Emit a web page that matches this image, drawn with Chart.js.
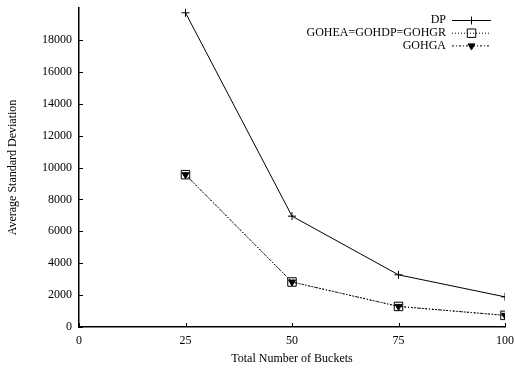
<!DOCTYPE html>
<html>
<head>
<meta charset="utf-8">
<script src="https://cdn.jsdelivr.net/npm/chart.js@4/dist/chart.umd.min.js"></script>
<style>
    html, body { margin: 0; padding: 0; background: #fff; }
    #wrap { width: 515px; height: 371px; }
</style>
</head>
<body>
<div id="wrap"><canvas id="chart" width="515" height="371"></canvas></div>
<script>
// values
const buckets = [25, 50, 75, 100];
const dpValues = [19700, 6950, 3270, 1890];
const goheaValues = [9550, 2820, 1290, 730];
const gohgaValues = [9550, 2820, 1290, 730];
const xTicks = [0, 25, 50, 75, 100];
const yTicks = [0, 2000, 4000, 6000, 8000, 10000, 12000, 14000, 16000, 18000];

const serif = "'Liberation Serif', 'DejaVu Serif', serif";

function toPoints(values) {
    return buckets.map((b, i) => ({ x: b, y: values[i] }));
}

// gnuplot style ticks pointing into the plot + legend in the top right corner
const gnuplotBits = {
    id: 'gnuplotBits',
    afterDraw(chart) {
        const ctx = chart.ctx;
        const xs = chart.scales.x;
        const ys = chart.scales.y;
        const area = chart.chartArea;
        ctx.save();
        ctx.strokeStyle = '#000';
        ctx.lineWidth = 1;
        ctx.beginPath();
        for (const t of yTicks) {
            const py = Math.round(ys.getPixelForValue(t)) + 0.5;
            ctx.moveTo(area.left, py);
            ctx.lineTo(area.left + 4, py);
        }
        for (const t of xTicks) {
            const px = Math.round(xs.getPixelForValue(t)) + 0.5;
            ctx.moveTo(px, area.bottom);
            ctx.lineTo(px, area.bottom - 4);
        }
        ctx.stroke();

        // legend
        const rows = chart.data.datasets;
        ctx.font = '12px ' + serif;
        ctx.textAlign = 'right';
        ctx.textBaseline = 'middle';
        rows.forEach((ds, i) => {
            const y = 20 + i * 12.7;
            ctx.fillStyle = '#000';
            ctx.fillText(ds.label, 446, y);
            ctx.setLineDash(ds.borderDash || []);
            ctx.lineWidth = ds.borderWidth;
            ctx.beginPath();
            ctx.moveTo(452, y + 0.5);
            ctx.lineTo(491, y + 0.5);
            ctx.stroke();
            ctx.setLineDash([]);
            ctx.fillStyle = ds.pointBackgroundColor;
            ctx.lineWidth = 1;
            Chart.helpers.drawPoint(ctx, {
                pointStyle: ds.pointStyle,
                radius: ds.pointRadius,
                rotation: ds.pointRotation || 0,
                borderWidth: 1
            }, 471.5, y + 0.5);
        });
        ctx.restore();
    }
};

new Chart(document.getElementById('chart'), {
    type: 'line',
    data: {
        datasets: [
            {
                label: 'DP',
                data: toPoints(dpValues),
                borderColor: '#000',
                borderWidth: 1,
                pointStyle: 'cross',
                pointRadius: 4,
                pointBorderColor: '#000',
                pointBackgroundColor: '#000',
                pointBorderWidth: 1
            },
            {
                label: 'GOHEA=GOHDP=GOHGR',
                data: toPoints(goheaValues),
                borderColor: '#000',
                borderWidth: 1,
                borderDash: [1, 2],
                pointStyle: 'rect',
                pointRadius: 6,
                pointBorderColor: '#000',
                pointBackgroundColor: 'rgba(0,0,0,0)',
                pointBorderWidth: 1
            },
            {
                label: 'GOHGA',
                data: toPoints(gohgaValues),
                borderColor: '#000',
                borderWidth: 1,
                borderDash: [2, 2, 1, 2],
                pointStyle: 'triangle',
                pointRotation: 180,
                pointRadius: 4,
                pointBorderColor: '#000',
                pointBackgroundColor: '#000',
                pointBorderWidth: 1
            }
        ]
    },
    options: {
        responsive: false,
        animation: false,
        events: [],
        layout: { padding: { top: 8, right: 0, left: 0, bottom: 0 } },
        plugins: {
            legend: { display: false },
            tooltip: { enabled: false }
        },
        scales: {
            x: {
                type: 'linear',
                min: 0,
                max: 100,
                afterBuildTicks: s => { s.ticks = xTicks.map(v => ({ value: v })); },
                afterFit: s => { s.height = 44; s.paddingRight = 10; },
                grid: { display: false, drawTicks: false },
                border: { display: true, color: '#000', width: 1.5 },
                ticks: {
                    color: '#000',
                    padding: 7,
                    maxRotation: 0,
                    callback: v => String(v),
                    font: { family: serif, size: 12 }
                },
                title: {
                    display: true,
                    text: 'Total Number of Buckets',
                    color: '#000',
                    padding: { top: 4, bottom: 5 },
                    font: { family: serif, size: 12 }
                }
            },
            y: {
                type: 'linear',
                min: 0,
                max: 20000,
                afterBuildTicks: s => { s.ticks = yTicks.map(v => ({ value: v })); },
                afterFit: s => { s.width = 79; s.paddingTop = 0; s.paddingBottom = 0; },
                grid: { display: false, drawTicks: false },
                border: { display: true, color: '#000', width: 1.5 },
                ticks: {
                    color: '#000',
                    padding: 7,
                    callback: v => String(v),
                    font: { family: serif, size: 12 }
                },
                title: {
                    display: true,
                    text: 'Average Standard Deviation',
                    color: '#000',
                    padding: { top: 6, bottom: 0 },
                    font: { family: serif, size: 12 }
                }
            }
        }
    },
    plugins: [gnuplotBits]
});
</script>
</body>
</html>
